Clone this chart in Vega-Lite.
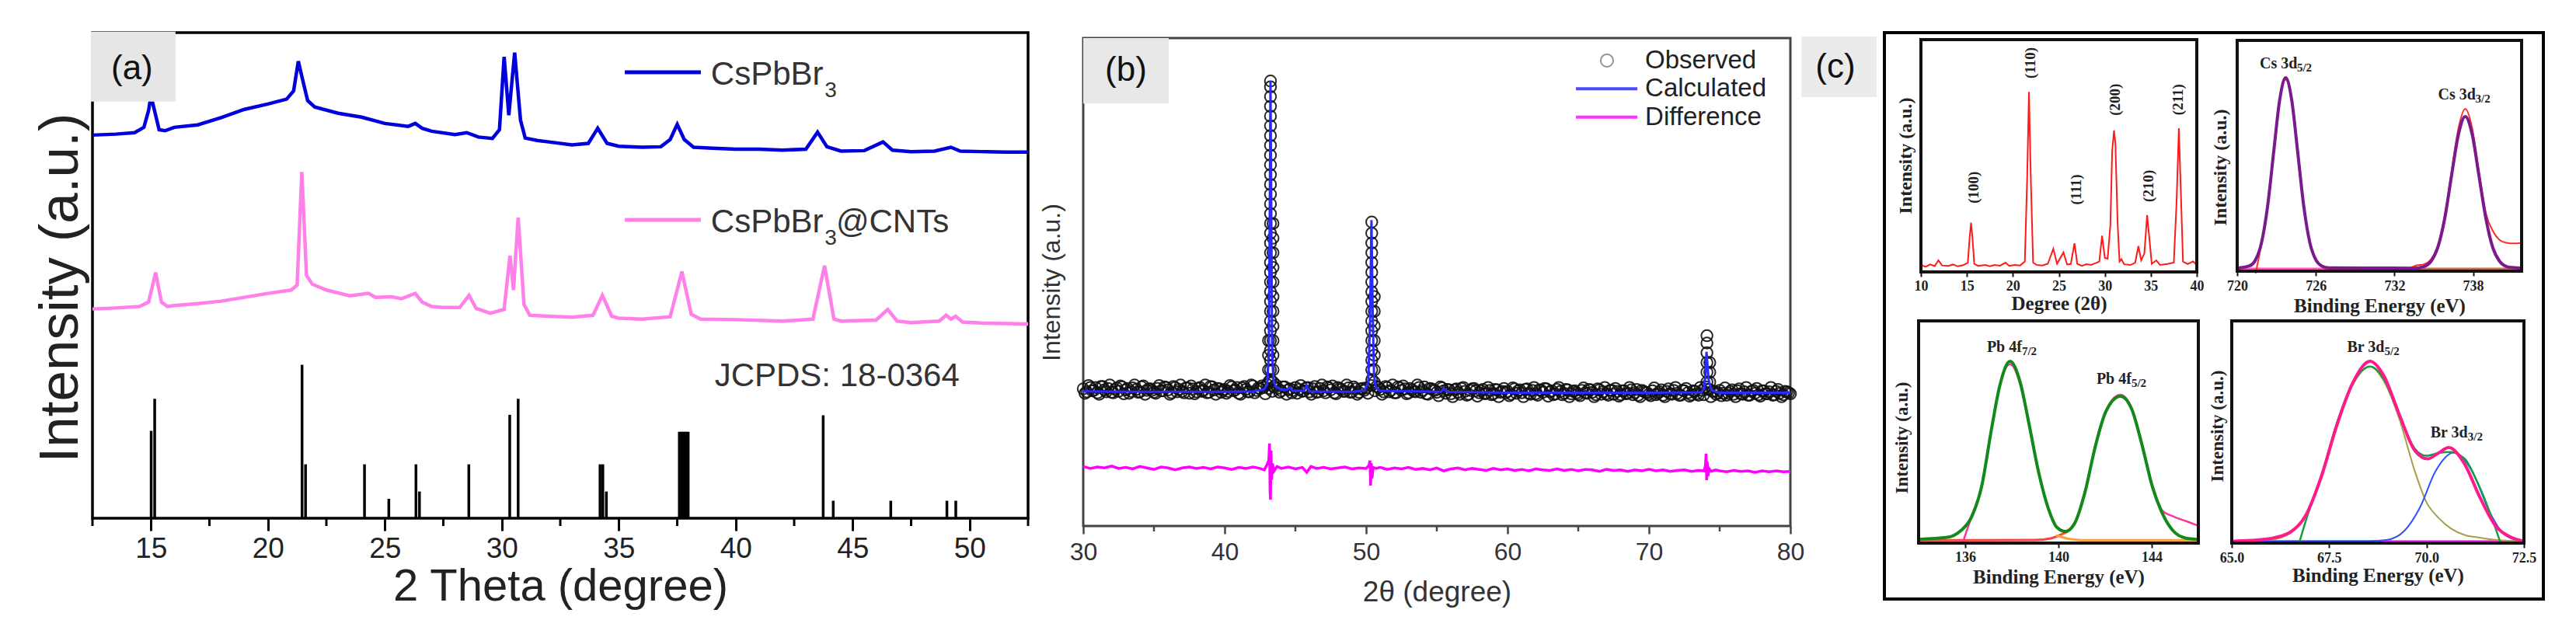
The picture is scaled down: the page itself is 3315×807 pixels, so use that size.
{
"$schema": "https://vega.github.io/schema/vega-lite/v6.json",
"width": 3315, "height": 807, "autosize": "none", "padding": 0, "background": "white",
"config": {"view": {"stroke": null}, "axis": {"grid": false}},
"resolve": {"scale": {"x": "independent", "y": "independent"}, "axis": {"x": "independent", "y": "independent"}},
"layer": [
{
"encoding": {
 "x": {"field": "x", "type": "quantitative", "scale": {"domain": [12.5, 52.5], "range": [119, 1323], "nice": false, "zero": false},
  "axis": {"orient": "bottom", "offset": -140, "values": [15,20,25,30,35,40,45,50], "tickSize": 16, "tickWidth": 3, "tickColor": "#000", "domain": false, "labelFont": "Liberation Sans", "labelFontSize": 37, "labelColor": "#222", "labelPadding": 23, "labelBaseline": "middle", "labelFlush": false, "labelOverlap": false, "title": "2 Theta (degree)", "titleFont": "Liberation Sans", "titleFontSize": 58, "titleFontWeight": "normal", "titleColor": "#222", "titleBaseline": "middle", "titleY": 88}},
 "y": {"field": "y", "type": "quantitative", "scale": {"domain": [0, 100], "range": [667, 42], "nice": false, "zero": false},
  "axis": {"orient": "left", "offset": -119, "labels": false, "ticks": false, "domain": false, "title": "Intensity (a.u.)", "titleFont": "Liberation Sans", "titleFontSize": 71, "titleFontWeight": "normal", "titleColor": "#222", "titleAngle": 270, "titleBaseline": "middle", "titleAlign": "center", "titleX": -41, "titleY": 370}}
},
"layer": [
 {"data": {"values": [{"x":12.5,"x2":52.5,"y":0,"y2":100}]}, "mark": {"type": "rect", "fillOpacity": 0, "stroke": "#000", "strokeWidth": 3.5}, "encoding": {"x2": {"field": "x2"}, "y2": {"field": "y2"}}},
 {"data": {"values": [{"x":12.5,"y":0,"y2":-1.6},{"x":17.5,"y":0,"y2":-1.6},{"x":22.5,"y":0,"y2":-1.6},{"x":27.5,"y":0,"y2":-1.6},{"x":32.5,"y":0,"y2":-1.6},{"x":37.5,"y":0,"y2":-1.6},{"x":42.5,"y":0,"y2":-1.6},{"x":47.5,"y":0,"y2":-1.6},{"x":52.5,"y":0,"y2":-1.6}]}, "mark": {"type": "rule", "color": "#000", "strokeWidth": 3}, "encoding": {"y2": {"field": "y2"}}},
 {"data": {"values": [{"x":15.01,"y":0,"y2":18.0},{"x":15.16,"y":0,"y2":24.6},{"x":21.46,"y":0,"y2":31.6},{"x":21.61,"y":0,"y2":11.1},{"x":24.13,"y":0,"y2":11.1},{"x":25.17,"y":0,"y2":4.0},{"x":26.33,"y":0,"y2":11.1},{"x":26.48,"y":0,"y2":5.5},{"x":28.59,"y":0,"y2":11.1},{"x":30.34,"y":0,"y2":21.3},{"x":30.70,"y":0,"y2":24.6},{"x":34.2,"y":0,"y2":11.1},{"x":34.32,"y":0,"y2":11.1},{"x":34.47,"y":0,"y2":5.5},{"x":37.59,"y":0,"y2":17.8},{"x":37.67,"y":0,"y2":17.8},{"x":37.74,"y":0,"y2":17.8},{"x":37.82,"y":0,"y2":17.8},{"x":37.88,"y":0,"y2":17.8},{"x":37.97,"y":0,"y2":17.8},{"x":43.74,"y":0,"y2":21.2},{"x":44.17,"y":0,"y2":3.6},{"x":46.63,"y":0,"y2":3.6},{"x":49.03,"y":0,"y2":3.6},{"x":49.41,"y":0,"y2":3.6}]}, "mark": {"type": "rule", "color": "#000", "strokeWidth": 3.5}, "encoding": {"y2": {"field": "y2"}}},
 {"data": {"values": [{"x":12.5,"y":78.9},{"x":13.5,"y":79.1},{"x":14.3,"y":79.4},{"x":14.7,"y":80.5},{"x":14.9,"y":84},{"x":15.0,"y":87},{"x":15.15,"y":84},{"x":15.35,"y":80},{"x":15.6,"y":79.8},{"x":16.0,"y":80.5},{"x":17.0,"y":81.0},{"x":18.0,"y":82.5},{"x":19.0,"y":84.2},{"x":20.0,"y":85.3},{"x":20.8,"y":86.3},{"x":21.1,"y":88},{"x":21.3,"y":94.1},{"x":21.5,"y":90},{"x":21.7,"y":86},{"x":22.0,"y":84.7},{"x":23.0,"y":83.4},{"x":24.0,"y":82.6},{"x":25.0,"y":81.3},{"x":26.0,"y":80.7},{"x":26.3,"y":81.3},{"x":26.6,"y":80.3},{"x":27.0,"y":79.7},{"x":28.0,"y":79.0},{"x":28.5,"y":79.4},{"x":29.0,"y":78.5},{"x":29.6,"y":78.2},{"x":29.9,"y":80},{"x":30.1,"y":95},{"x":30.3,"y":83},{"x":30.55,"y":95.9},{"x":30.8,"y":82},{"x":31.0,"y":78.3},{"x":31.5,"y":77.8},{"x":32.0,"y":77.5},{"x":33.0,"y":76.9},{"x":33.7,"y":77.2},{"x":34.1,"y":80.3},{"x":34.5,"y":77.2},{"x":35.0,"y":76.6},{"x":36.0,"y":76.4},{"x":36.8,"y":76.5},{"x":37.2,"y":78},{"x":37.5,"y":81.1},{"x":37.8,"y":78},{"x":38.2,"y":76.4},{"x":39.0,"y":76.2},{"x":40.0,"y":76.0},{"x":41.0,"y":76.0},{"x":42.0,"y":75.8},{"x":43.0,"y":76.0},{"x":43.5,"y":79.5},{"x":43.9,"y":76.5},{"x":44.5,"y":75.6},{"x":45.5,"y":75.7},{"x":46.3,"y":77.5},{"x":46.7,"y":75.8},{"x":47.5,"y":75.5},{"x":48.5,"y":75.6},{"x":49.2,"y":76.4},{"x":49.6,"y":75.6},{"x":50.5,"y":75.5},{"x":51.5,"y":75.4},{"x":52.5,"y":75.4}]}, "mark": {"type": "line", "color": "#0000dd", "strokeWidth": 4.5}},
 {"data": {"values": [{"x":12.5,"y":43.1},{"x":13.5,"y":43.3},{"x":14.5,"y":43.6},{"x":14.9,"y":44.5},{"x":15.2,"y":50.6},{"x":15.45,"y":44.5},{"x":15.7,"y":43.6},{"x":16.0,"y":43.8},{"x":17.0,"y":44.2},{"x":18.0,"y":44.7},{"x":19.0,"y":45.5},{"x":20.0,"y":46.3},{"x":21.0,"y":47.0},{"x":21.25,"y":48},{"x":21.45,"y":71.3},{"x":21.65,"y":50},{"x":21.9,"y":48.2},{"x":22.5,"y":47.0},{"x":23.5,"y":45.8},{"x":24.3,"y":46.3},{"x":24.6,"y":45.5},{"x":25.3,"y":45.6},{"x":25.7,"y":45.2},{"x":26.3,"y":46.3},{"x":26.6,"y":44.5},{"x":27.0,"y":43.6},{"x":27.5,"y":43.4},{"x":28.2,"y":43.4},{"x":28.6,"y":45.9},{"x":28.9,"y":43.2},{"x":29.5,"y":42.2},{"x":30.1,"y":43},{"x":30.35,"y":54.1},{"x":30.5,"y":47},{"x":30.7,"y":61.9},{"x":30.95,"y":44},{"x":31.2,"y":41.8},{"x":32.0,"y":41.6},{"x":33.0,"y":41.4},{"x":33.9,"y":41.8},{"x":34.3,"y":45.9},{"x":34.7,"y":41.6},{"x":35.0,"y":41.2},{"x":36.0,"y":41.0},{"x":37.2,"y":41.5},{"x":37.7,"y":50.8},{"x":38.1,"y":42},{"x":38.5,"y":41.0},{"x":40.0,"y":40.9},{"x":42.0,"y":40.6},{"x":43.3,"y":41},{"x":43.8,"y":52.0},{"x":44.2,"y":41},{"x":44.5,"y":40.6},{"x":46.0,"y":40.8},{"x":46.5,"y":43.0},{"x":46.9,"y":40.6},{"x":47.5,"y":40.3},{"x":48.7,"y":40.6},{"x":49.0,"y":41.8},{"x":49.2,"y":41.0},{"x":49.4,"y":41.6},{"x":49.7,"y":40.4},{"x":50.5,"y":40.2},{"x":52.5,"y":40.0}]}, "mark": {"type": "line", "color": "#ff80e8", "strokeWidth": 4.5}},
 {"data": {"values": [{"x":12.43,"x2":16.05,"y":85.8,"y2":100.2}]}, "mark": {"type": "rect", "fill": "#e6e6e6"}, "encoding": {"x2": {"field": "x2"}, "y2": {"field": "y2"}}},
 {"data": {"values": [{"x":14.19,"y":92.5,"t":"(a)"}]}, "mark": {"type": "text", "font": "Liberation Sans", "fontSize": 44, "color": "#111", "align": "center", "baseline": "middle"}, "encoding": {"text": {"field": "t"}}},
 {"data": {"values": [{"x":35.26,"x2":38.51,"y":91.84}]}, "mark": {"type": "rule", "color": "#0000dd", "strokeWidth": 5}, "encoding": {"x2": {"field": "x2"}}},
 {"data": {"values": [{"x":35.26,"x2":38.51,"y":61.44}]}, "mark": {"type": "rule", "color": "#ff80e8", "strokeWidth": 5}, "encoding": {"x2": {"field": "x2"}}},
 {"data": {"values": [{"x":38.94,"y":91.4,"t":"CsPbBr"},{"x":38.94,"y":61.0,"t":"CsPbBr"},{"x":44.29,"y":61.0,"t":"@CNTs"},{"x":39.1,"y":29.3,"t":"JCPDS: 18-0364"}]}, "mark": {"type": "text", "font": "Liberation Sans", "fontSize": 42, "color": "#333", "align": "left", "baseline": "middle"}, "encoding": {"text": {"field": "t"}}},
 {"data": {"values": [{"x":43.8,"y":88.0,"t":"3"},{"x":43.8,"y":57.6,"t":"3"}]}, "mark": {"type": "text", "font": "Liberation Sans", "fontSize": 28, "color": "#333", "align": "left", "baseline": "middle"}, "encoding": {"text": {"field": "t"}}}
]
},
{
"encoding": {
 "x": {"field": "x", "type": "quantitative", "scale": {"domain": [30, 80], "range": [1394, 2304], "nice": false, "zero": false},
  "axis": {"orient": "bottom", "offset": -130, "values": [30,40,50,60,70,80], "tickSize": 10, "tickWidth": 2.5, "tickColor": "#444", "domain": false, "labelFont": "Liberation Sans", "labelFontSize": 32, "labelColor": "#333", "labelPadding": 23, "labelBaseline": "middle", "labelFlush": false, "labelOverlap": false, "title": "2θ (degree)", "titleFont": "Liberation Sans", "titleFontSize": 37, "titleFontWeight": "normal", "titleColor": "#333", "titleBaseline": "middle", "titleY": 85}},
 "y": {"field": "y", "type": "quantitative", "scale": {"domain": [0, 100], "range": [677, 49], "nice": false, "zero": false},
  "axis": {"orient": "left", "offset": -1394, "labels": false, "ticks": false, "domain": false, "title": "Intensity (a.u.)", "titleFont": "Liberation Sans", "titleFontSize": 32, "titleFontWeight": "normal", "titleColor": "#333", "titleAngle": 270, "titleBaseline": "middle", "titleAlign": "center", "titleX": -41, "titleY": 363}}
},
"layer": [
 {"data": {"values": [{"x":30,"x2":80,"y":0,"y2":100}]}, "mark": {"type": "rect", "fillOpacity": 0, "stroke": "#444", "strokeWidth": 3}, "encoding": {"x2": {"field": "x2"}, "y2": {"field": "y2"}}},
 {"data": {"values": [{"x":35,"y":0,"y2":-1.1},{"x":45,"y":0,"y2":-1.1},{"x":55,"y":0,"y2":-1.1},{"x":65,"y":0,"y2":-1.1},{"x":75,"y":0,"y2":-1.1}]}, "mark": {"type": "rule", "color": "#444", "strokeWidth": 2.5}, "encoding": {"y2": {"field": "y2"}}},
 {"data": {"values": [
  {"x":30.00,"y":28.1},{"x":30.25,"y":27.5},{"x":30.50,"y":28.4},{"x":30.75,"y":27.8},{"x":31.00,"y":27.3},{"x":31.25,"y":28.6},{"x":31.50,"y":27.9},{"x":31.75,"y":28.2},{"x":32.00,"y":27.4},{"x":32.25,"y":28.0},
  {"x":32.50,"y":27.6},{"x":32.75,"y":28.5},{"x":33.00,"y":27.9},{"x":33.25,"y":27.2},{"x":33.50,"y":28.3},{"x":33.75,"y":28.0},{"x":34.00,"y":27.5},{"x":34.25,"y":28.7},{"x":34.50,"y":27.8},{"x":34.75,"y":28.1},
  {"x":35.00,"y":27.4},{"x":35.25,"y":28.2},{"x":35.50,"y":27.7},{"x":35.75,"y":28.5},{"x":36.00,"y":27.9},{"x":36.25,"y":27.3},{"x":36.50,"y":28.4},{"x":36.75,"y":28.0},{"x":37.00,"y":27.6},{"x":37.25,"y":28.3},
  {"x":37.50,"y":27.2},{"x":37.75,"y":28.1},{"x":38.00,"y":27.5},{"x":38.25,"y":28.4},{"x":38.50,"y":27.8},{"x":38.75,"y":27.3},{"x":39.00,"y":28.6},{"x":39.25,"y":27.9},{"x":39.50,"y":28.2},{"x":39.75,"y":27.4},
  {"x":40.00,"y":28.0},{"x":40.25,"y":27.6},{"x":40.50,"y":28.5},{"x":40.75,"y":27.9},{"x":41.00,"y":27.2},{"x":41.25,"y":28.3},{"x":41.50,"y":28.0},{"x":41.75,"y":27.5},{"x":42.00,"y":28.7},{"x":42.25,"y":27.8},
  {"x":42.50,"y":28.1},{"x":42.75,"y":28.4},{"x":43.00,"y":29.0},{"x":43.50,"y":28.6},{"x":43.75,"y":28.2},{"x":44.00,"y":27.7},{"x":44.25,"y":28.5},{"x":44.50,"y":27.9},{"x":44.75,"y":27.3},{"x":45.00,"y":28.4},
  {"x":45.25,"y":28.0},{"x":45.50,"y":27.6},{"x":45.75,"y":28.3},{"x":46.00,"y":27.5},{"x":46.25,"y":28.1},{"x":46.50,"y":27.4},{"x":46.75,"y":28.2},{"x":47.00,"y":27.7},{"x":47.25,"y":28.5},{"x":47.50,"y":27.9},
  {"x":47.75,"y":27.3},{"x":48.00,"y":28.4},{"x":48.25,"y":28.0},{"x":48.50,"y":27.6},{"x":48.75,"y":28.3},{"x":49.00,"y":27.5},{"x":49.25,"y":28.1},{"x":49.50,"y":27.4},{"x":49.75,"y":28.2},{"x":50.00,"y":28.3},
  {"x":50.75,"y":28.6},{"x":51.00,"y":28.0},{"x":51.25,"y":27.5},{"x":51.50,"y":28.4},{"x":51.75,"y":27.8},{"x":52.00,"y":27.3},{"x":52.25,"y":28.5},{"x":52.50,"y":27.8},{"x":52.75,"y":28.1},{"x":53.00,"y":27.3},
  {"x":53.25,"y":27.9},{"x":53.50,"y":27.5},{"x":53.75,"y":28.4},{"x":54.00,"y":27.8},{"x":54.25,"y":27.1},{"x":54.50,"y":28.2},{"x":54.75,"y":27.9},{"x":55.00,"y":27.4},{"x":55.25,"y":28.5},{"x":55.50,"y":27.7},
  {"x":55.75,"y":28.0},{"x":56.00,"y":27.1},{"x":56.25,"y":27.9},{"x":56.50,"y":27.4},{"x":56.75,"y":28.2},{"x":57.00,"y":27.6},{"x":57.25,"y":27.0},{"x":57.50,"y":28.1},{"x":57.75,"y":27.7},{"x":58.00,"y":27.3},
  {"x":58.25,"y":28.0},{"x":58.50,"y":27.2},{"x":58.75,"y":27.8},{"x":59.00,"y":27.1},{"x":59.25,"y":27.9},{"x":59.50,"y":27.4},{"x":59.75,"y":28.2},{"x":60.00,"y":27.6},{"x":60.25,"y":27.0},{"x":60.50,"y":28.1},
  {"x":60.75,"y":27.7},{"x":61.00,"y":27.3},{"x":61.25,"y":28.0},{"x":61.50,"y":27.2},{"x":61.75,"y":27.8},{"x":62.00,"y":27.1},{"x":62.25,"y":27.9},{"x":62.50,"y":27.4},{"x":62.75,"y":28.1},{"x":63.00,"y":27.5},
  {"x":63.25,"y":26.9},{"x":63.50,"y":28.0},{"x":63.75,"y":27.6},{"x":64.00,"y":27.2},{"x":64.25,"y":27.9},{"x":64.50,"y":27.1},{"x":64.75,"y":27.7},{"x":65.00,"y":27.0},{"x":65.25,"y":27.8},{"x":65.50,"y":27.3},
  {"x":65.75,"y":28.0},{"x":66.00,"y":27.4},{"x":66.25,"y":26.9},{"x":66.50,"y":27.9},{"x":66.75,"y":27.5},{"x":67.00,"y":27.1},{"x":67.25,"y":27.8},{"x":67.50,"y":27.0},{"x":67.75,"y":27.6},{"x":68.00,"y":26.9},
  {"x":68.25,"y":27.7},{"x":68.50,"y":27.2},{"x":68.75,"y":27.9},{"x":69.00,"y":27.3},{"x":69.25,"y":26.8},{"x":69.50,"y":27.8},{"x":69.75,"y":27.4},{"x":70.00,"y":27.0},{"x":70.25,"y":27.7},{"x":70.50,"y":26.9},
  {"x":70.75,"y":27.5},{"x":71.00,"y":26.8},{"x":71.25,"y":27.6},{"x":71.50,"y":27.1},{"x":71.75,"y":27.8},{"x":72.00,"y":27.2},{"x":72.25,"y":26.8},{"x":72.50,"y":27.7},{"x":72.75,"y":27.3},{"x":73.00,"y":26.9},
  {"x":73.25,"y":27.6},{"x":73.50,"y":26.8},{"x":73.75,"y":27.8},{"x":74.00,"y":28.5},{"x":74.25,"y":28.0},{"x":74.50,"y":27.6},{"x":74.75,"y":27.0},{"x":75.00,"y":27.8},{"x":75.25,"y":27.2},{"x":75.50,"y":26.8},
  {"x":75.75,"y":27.6},{"x":76.00,"y":27.0},{"x":76.25,"y":27.7},{"x":76.50,"y":27.1},{"x":76.75,"y":27.5},{"x":77.00,"y":26.8},{"x":77.25,"y":27.6},{"x":77.50,"y":27.2},{"x":77.75,"y":26.9},{"x":78.00,"y":27.7},
  {"x":78.25,"y":27.1},{"x":78.50,"y":27.5},{"x":78.75,"y":26.8},{"x":79.00,"y":27.6},{"x":79.25,"y":27.2},{"x":79.50,"y":26.9},{"x":79.75,"y":27.5},{"x":80.00,"y":27.1},
  {"x":30.125,"y":27.2},{"x":30.375,"y":28.8},{"x":30.625,"y":27.7},{"x":30.875,"y":28.4},{"x":31.125,"y":27.0},{"x":31.375,"y":28.6},{"x":31.625,"y":27.5},{"x":31.875,"y":28.9},{"x":32.125,"y":27.3},{"x":32.375,"y":28.3},
  {"x":32.625,"y":28.7},{"x":32.875,"y":27.1},{"x":33.125,"y":28.2},{"x":33.375,"y":27.6},{"x":33.625,"y":28.9},{"x":33.875,"y":27.4},{"x":34.125,"y":28.5},{"x":34.375,"y":27.0},{"x":34.625,"y":28.1},{"x":34.875,"y":27.8},
  {"x":35.125,"y":27.2},{"x":35.375,"y":28.8},{"x":35.625,"y":27.7},{"x":35.875,"y":28.4},{"x":36.125,"y":27.0},{"x":36.375,"y":28.6},{"x":36.625,"y":27.5},{"x":36.875,"y":28.9},{"x":37.125,"y":27.3},{"x":37.375,"y":28.3},
  {"x":37.625,"y":28.7},{"x":37.875,"y":27.1},{"x":38.125,"y":28.2},{"x":38.375,"y":27.6},{"x":38.625,"y":28.9},{"x":38.875,"y":27.4},{"x":39.125,"y":28.5},{"x":39.375,"y":27.0},{"x":39.625,"y":28.1},{"x":39.875,"y":27.8},
  {"x":40.125,"y":27.2},{"x":40.375,"y":28.8},{"x":40.625,"y":27.7},{"x":40.875,"y":28.4},{"x":41.125,"y":27.0},{"x":41.375,"y":28.6},{"x":41.625,"y":27.5},{"x":41.875,"y":28.9},{"x":42.125,"y":27.3},{"x":42.375,"y":28.3},
  {"x":42.625,"y":28.7},{"x":42.875,"y":27.1},{"x":43.125,"y":28.2},{"x":43.375,"y":27.6},{"x":43.625,"y":28.9},{"x":43.875,"y":27.4},{"x":44.125,"y":28.5},{"x":44.375,"y":27.0},{"x":44.625,"y":28.1},{"x":44.875,"y":27.8},
  {"x":45.125,"y":27.2},{"x":45.375,"y":28.8},{"x":45.625,"y":27.7},{"x":45.875,"y":28.4},{"x":46.125,"y":27.0},{"x":46.375,"y":28.6},{"x":46.625,"y":27.5},{"x":46.875,"y":28.9},{"x":47.125,"y":27.3},{"x":47.375,"y":28.3},
  {"x":47.625,"y":28.7},{"x":47.875,"y":27.1},{"x":48.125,"y":28.2},{"x":48.375,"y":27.6},{"x":48.625,"y":28.9},{"x":48.875,"y":27.4},{"x":49.125,"y":28.5},{"x":49.375,"y":27.0},{"x":49.625,"y":28.1},{"x":49.875,"y":27.8},
  {"x":50.125,"y":27.2},{"x":50.375,"y":28.8},{"x":50.625,"y":27.7},{"x":50.875,"y":28.4},{"x":51.125,"y":27.0},{"x":51.375,"y":28.6},{"x":51.625,"y":27.5},{"x":51.875,"y":28.9},{"x":52.125,"y":27.3},{"x":52.375,"y":28.3},
  {"x":52.625,"y":28.7},{"x":52.875,"y":27.1},{"x":53.125,"y":28.2},{"x":53.375,"y":27.6},{"x":53.625,"y":28.9},{"x":53.875,"y":27.4},{"x":54.125,"y":28.5},{"x":54.375,"y":27.0},{"x":54.625,"y":28.1},{"x":54.875,"y":27.8},
  {"x":55.125,"y":26.7},{"x":55.375,"y":28.3},{"x":55.625,"y":27.2},{"x":55.875,"y":27.9},{"x":56.125,"y":26.5},{"x":56.375,"y":28.1},{"x":56.625,"y":27.0},{"x":56.875,"y":28.4},{"x":57.125,"y":26.8},{"x":57.375,"y":27.8},
  {"x":57.625,"y":28.2},{"x":57.875,"y":26.6},{"x":58.125,"y":27.7},{"x":58.375,"y":27.1},{"x":58.625,"y":28.4},{"x":58.875,"y":26.9},{"x":59.125,"y":28.0},{"x":59.375,"y":26.5},{"x":59.625,"y":27.6},{"x":59.875,"y":27.3},
  {"x":60.125,"y":26.7},{"x":60.375,"y":28.3},{"x":60.625,"y":27.2},{"x":60.875,"y":27.9},{"x":61.125,"y":26.5},{"x":61.375,"y":28.1},{"x":61.625,"y":27.0},{"x":61.875,"y":28.4},{"x":62.125,"y":26.8},{"x":62.375,"y":27.8},
  {"x":62.625,"y":28.2},{"x":62.875,"y":26.6},{"x":63.125,"y":27.7},{"x":63.375,"y":27.1},{"x":63.625,"y":28.4},{"x":63.875,"y":26.9},{"x":64.125,"y":28.0},{"x":64.375,"y":26.5},{"x":64.625,"y":27.6},{"x":64.875,"y":27.3},
  {"x":65.125,"y":26.7},{"x":65.375,"y":28.3},{"x":65.625,"y":27.2},{"x":65.875,"y":27.9},{"x":66.125,"y":26.5},{"x":66.375,"y":28.1},{"x":66.625,"y":27.0},{"x":66.875,"y":28.4},{"x":67.125,"y":26.8},{"x":67.375,"y":27.8},
  {"x":67.625,"y":28.2},{"x":67.875,"y":26.6},{"x":68.125,"y":27.7},{"x":68.375,"y":27.1},{"x":68.625,"y":28.4},{"x":68.875,"y":26.9},{"x":69.125,"y":28.0},{"x":69.375,"y":26.5},{"x":69.625,"y":27.6},{"x":69.875,"y":27.3},
  {"x":70.125,"y":26.7},{"x":70.375,"y":28.3},{"x":70.625,"y":27.2},{"x":70.875,"y":27.9},{"x":71.125,"y":26.5},{"x":71.375,"y":28.1},{"x":71.625,"y":27.0},{"x":71.875,"y":28.4},{"x":72.125,"y":26.8},{"x":72.375,"y":27.8},
  {"x":72.625,"y":28.2},{"x":72.875,"y":26.6},{"x":73.125,"y":27.7},{"x":73.375,"y":27.1},{"x":73.625,"y":28.4},{"x":73.875,"y":26.9},{"x":74.125,"y":28.0},{"x":74.375,"y":26.5},{"x":74.625,"y":27.6},{"x":74.875,"y":27.3},
  {"x":75.125,"y":26.7},{"x":75.375,"y":28.3},{"x":75.625,"y":27.2},{"x":75.875,"y":27.9},{"x":76.125,"y":26.5},{"x":76.375,"y":28.1},{"x":76.625,"y":27.0},{"x":76.875,"y":28.4},{"x":77.125,"y":26.8},{"x":77.375,"y":27.8},
  {"x":77.625,"y":28.2},{"x":77.875,"y":26.6},{"x":78.125,"y":27.7},{"x":78.375,"y":27.1},{"x":78.625,"y":28.4},{"x":78.875,"y":26.9},{"x":79.125,"y":28.0},{"x":79.375,"y":26.5},{"x":79.625,"y":27.6},{"x":79.875,"y":27.3},
  {"x":43.24,"y":30},{"x":43.24,"y":32},{"x":43.24,"y":34},{"x":43.24,"y":36},{"x":43.24,"y":38},{"x":43.24,"y":40},{"x":43.24,"y":42},{"x":43.24,"y":44},{"x":43.24,"y":46},{"x":43.24,"y":48},{"x":43.24,"y":50},{"x":43.24,"y":52},{"x":43.24,"y":54},{"x":43.24,"y":56},{"x":43.24,"y":58},{"x":43.24,"y":60},{"x":43.24,"y":62},{"x":43.24,"y":64},{"x":43.24,"y":66},{"x":43.24,"y":68},{"x":43.24,"y":70},{"x":43.24,"y":72},{"x":43.24,"y":74},{"x":43.24,"y":76},{"x":43.24,"y":78},{"x":43.24,"y":80},{"x":43.24,"y":82},{"x":43.24,"y":84},{"x":43.24,"y":86},{"x":43.24,"y":88},{"x":43.24,"y":90},{"x":43.24,"y":91.2},
  {"x":43.1,"y":29.5},{"x":43.1,"y":32},{"x":43.1,"y":35},{"x":43.1,"y":38},
  {"x":43.42,"y":29.5},{"x":43.42,"y":32},{"x":43.42,"y":35},{"x":43.42,"y":38},{"x":43.42,"y":41},{"x":43.42,"y":44},{"x":43.42,"y":47},{"x":43.42,"y":50},{"x":43.42,"y":53},{"x":43.42,"y":56},{"x":43.42,"y":59},{"x":43.42,"y":62},
  {"x":50.4,"y":30},{"x":50.4,"y":32},{"x":50.4,"y":34},{"x":50.4,"y":36},{"x":50.4,"y":38},{"x":50.4,"y":40},{"x":50.4,"y":42},{"x":50.4,"y":44},{"x":50.4,"y":46},{"x":50.4,"y":48},{"x":50.4,"y":50},{"x":50.4,"y":52},{"x":50.4,"y":54},{"x":50.4,"y":56},{"x":50.4,"y":58},{"x":50.4,"y":60},{"x":50.4,"y":62.3},
  {"x":50.58,"y":29.5},{"x":50.58,"y":32},{"x":50.58,"y":35},{"x":50.58,"y":38},{"x":50.58,"y":41},{"x":50.58,"y":44},{"x":50.58,"y":47},
  {"x":74.1,"y":29.5},{"x":74.1,"y":31.5},{"x":74.1,"y":33.5},{"x":74.1,"y":35.5},{"x":74.1,"y":37.5},{"x":74.1,"y":39.0},
  {"x":74.3,"y":29.5},{"x":74.3,"y":31.5},{"x":74.3,"y":33.5}
 ]}, "mark": {"type": "point", "shape": "circle", "filled": false, "size": 210, "strokeWidth": 2, "color": "#111", "opacity": 0.9}},
 {"data": {"values": [{"x":30,"y":27.6},{"x":35,"y":27.5},{"x":40,"y":27.5},{"x":42.0,"y":27.6},{"x":42.8,"y":28.0},{"x":43.0,"y":29},{"x":43.12,"y":35},{"x":43.18,"y":60},{"x":43.24,"y":91.2},{"x":43.3,"y":62},{"x":43.36,"y":35},{"x":43.45,"y":30},{"x":43.6,"y":28.6},{"x":44.0,"y":28.0},{"x":44.4,"y":27.9},{"x":44.6,"y":28.4},{"x":44.8,"y":27.7},{"x":45.6,"y":27.7},{"x":45.8,"y":28.8},{"x":46.0,"y":27.6},{"x":49.0,"y":27.5},{"x":49.9,"y":27.8},{"x":50.15,"y":29.5},{"x":50.28,"y":42},{"x":50.38,"y":62.7},{"x":50.46,"y":45},{"x":50.56,"y":31},{"x":50.7,"y":28.3},{"x":51.0,"y":27.7},{"x":55.3,"y":27.5},{"x":55.5,"y":28.2},{"x":55.7,"y":27.5},{"x":60,"y":27.3},{"x":70,"y":27.3},{"x":73.7,"y":27.4},{"x":73.9,"y":28.2},{"x":74.0,"y":31},{"x":74.07,"y":35.7},{"x":74.14,"y":33},{"x":74.22,"y":30},{"x":74.3,"y":29},{"x":74.45,"y":27.8},{"x":75,"y":27.3},{"x":80,"y":27.3}]}, "mark": {"type": "line", "color": "#2a2aff", "strokeWidth": 3}},
 {"data": {"values": [{"x":30,"y":12.2},{"x":30.5,"y":11.8},{"x":31,"y":12.1},{"x":31.5,"y":11.9},{"x":32,"y":12.3},{"x":32.5,"y":11.8},{"x":33,"y":12.0},{"x":33.5,"y":11.7},{"x":34,"y":12.2},{"x":34.5,"y":11.9},{"x":35,"y":11.6},{"x":35.5,"y":12.1},{"x":36,"y":11.9},{"x":36.5,"y":11.5},{"x":37,"y":11.9},{"x":37.5,"y":12.1},{"x":38,"y":11.8},{"x":38.5,"y":12.0},{"x":39,"y":11.7},{"x":39.5,"y":12.1},{"x":40,"y":11.9},{"x":40.5,"y":11.6},{"x":41,"y":12.0},{"x":41.5,"y":11.8},{"x":42,"y":12.1},{"x":42.5,"y":11.8},{"x":42.8,"y":11.5},{"x":43.0,"y":12.6},{"x":43.12,"y":13.5},{"x":43.17,"y":16.9},{"x":43.21,"y":7},{"x":43.24,"y":5.4},{"x":43.28,"y":15.5},{"x":43.32,"y":9.5},{"x":43.38,"y":12.8},{"x":43.5,"y":11.3},{"x":43.7,"y":12.2},{"x":44,"y":11.8},{"x":44.5,"y":12.1},{"x":45,"y":11.7},{"x":45.5,"y":12.0},{"x":45.8,"y":11.0},{"x":46.1,"y":12.2},{"x":46.5,"y":11.8},{"x":47,"y":12.0},{"x":47.5,"y":11.7},{"x":48,"y":11.9},{"x":48.5,"y":12.1},{"x":49,"y":11.7},{"x":49.5,"y":11.9},{"x":50,"y":11.8},{"x":50.2,"y":12.4},{"x":50.27,"y":13.4},{"x":50.32,"y":8.3},{"x":50.37,"y":12.9},{"x":50.42,"y":9.8},{"x":50.5,"y":12.0},{"x":50.7,"y":11.8},{"x":51,"y":12.0},{"x":51.5,"y":11.6},{"x":52,"y":11.9},{"x":52.5,"y":11.7},{"x":53,"y":12.0},{"x":53.5,"y":11.6},{"x":54,"y":11.8},{"x":54.5,"y":11.5},{"x":55,"y":11.9},{"x":55.5,"y":11.3},{"x":56,"y":11.7},{"x":56.5,"y":11.9},{"x":57,"y":11.5},{"x":57.5,"y":11.8},{"x":58,"y":11.6},{"x":58.5,"y":11.4},{"x":59,"y":11.8},{"x":59.5,"y":11.5},{"x":60,"y":11.7},{"x":60.5,"y":11.4},{"x":61,"y":11.6},{"x":61.5,"y":11.3},{"x":62,"y":11.7},{"x":62.5,"y":11.5},{"x":63,"y":11.4},{"x":63.5,"y":11.7},{"x":64,"y":11.4},{"x":64.5,"y":11.6},{"x":65,"y":11.3},{"x":65.5,"y":11.6},{"x":66,"y":11.5},{"x":66.5,"y":11.2},{"x":67,"y":11.6},{"x":67.5,"y":11.4},{"x":68,"y":11.5},{"x":68.5,"y":11.2},{"x":69,"y":11.5},{"x":69.5,"y":11.3},{"x":70,"y":11.6},{"x":70.5,"y":11.3},{"x":71,"y":11.5},{"x":71.5,"y":11.2},{"x":72,"y":11.4},{"x":72.5,"y":11.5},{"x":73,"y":11.2},{"x":73.5,"y":11.4},{"x":73.9,"y":11.3},{"x":74.0,"y":12.5},{"x":74.04,"y":14.8},{"x":74.08,"y":9.4},{"x":74.12,"y":13.2},{"x":74.17,"y":10.2},{"x":74.25,"y":11.8},{"x":74.4,"y":11.2},{"x":74.7,"y":11.5},{"x":75,"y":11.3},{"x":75.5,"y":11.1},{"x":76,"y":11.4},{"x":76.5,"y":11.2},{"x":77,"y":11.3},{"x":77.5,"y":11.0},{"x":78,"y":11.3},{"x":78.5,"y":11.1},{"x":79,"y":11.3},{"x":79.5,"y":11.1},{"x":80,"y":11.2}]}, "mark": {"type": "line", "color": "#ff00ff", "strokeWidth": 3.5}},
 {"data": {"values": [{"x":30,"x2":36.04,"y":86.6,"y2":100}]}, "mark": {"type": "rect", "fill": "#e8e8e8"}, "encoding": {"x2": {"field": "x2"}, "y2": {"field": "y2"}}},
 {"data": {"values": [{"x":33.02,"y":93.3,"t":"(b)"}]}, "mark": {"type": "text", "font": "Liberation Sans", "fontSize": 44, "color": "#111", "align": "center", "baseline": "middle"}, "encoding": {"text": {"field": "t"}}},
 {"data": {"values": [{"x":67.03,"y":95.4}]}, "mark": {"type": "point", "shape": "circle", "filled": false, "size": 260, "strokeWidth": 2, "color": "#666"}},
 {"data": {"values": [{"x":64.84,"x2":69.18,"y":89.6}]}, "mark": {"type": "rule", "color": "#4a4aff", "strokeWidth": 4}, "encoding": {"x2": {"field": "x2"}}},
 {"data": {"values": [{"x":64.84,"x2":69.18,"y":83.8}]}, "mark": {"type": "rule", "color": "#ff33ff", "strokeWidth": 4}, "encoding": {"x2": {"field": "x2"}}},
 {"data": {"values": [{"x":69.73,"y":95.4,"t":"Observed"},{"x":69.73,"y":89.6,"t":"Calculated"},{"x":69.73,"y":83.8,"t":"Difference"}]}, "mark": {"type": "text", "font": "Liberation Sans", "fontSize": 33, "color": "#222", "align": "left", "baseline": "middle"}, "encoding": {"text": {"field": "t"}}}
]
},
{
"encoding": {
 "x": {"field": "x", "type": "quantitative", "scale": {"domain": [0, 1], "range": [2425, 3273], "nice": false, "zero": false}, "axis": null},
 "y": {"field": "y", "type": "quantitative", "scale": {"domain": [0, 1], "range": [771, 42], "nice": false, "zero": false}, "axis": null}
},
"layer": [
 {"data": {"values": [{"x":0,"x2":1,"y":0,"y2":1}]}, "mark": {"type": "rect", "fillOpacity": 0, "stroke": "#000", "strokeWidth": 4}, "encoding": {"x2": {"field": "x2"}, "y2": {"field": "y2"}}},
 {"data": {"values": [{"x":-0.126,"x2":-0.0118,"y":0.886,"y2":0.993}]}, "mark": {"type": "rect", "fill": "#ebebeb"}, "encoding": {"x2": {"field": "x2"}, "y2": {"field": "y2"}}},
 {"data": {"values": [{"x":-0.0743,"y":0.938,"t":"(c)"}]}, "mark": {"type": "text", "font": "Liberation Sans", "fontSize": 44, "color": "#111", "align": "center", "baseline": "middle"}, "encoding": {"text": {"field": "t"}}}
]
},
{
"encoding": {
 "x": {"field": "x", "type": "quantitative", "scale": {"domain": [10, 40], "range": [2472, 2827], "nice": false, "zero": false},
  "axis": {"orient": "bottom", "offset": -457, "values": [10,15,20,25,30,35,40], "tickSize": 6, "tickWidth": 2, "tickColor": "#111", "domain": false, "labelFont": "Liberation Serif", "labelFontWeight": "bold", "labelFontSize": 18, "labelColor": "#222", "labelPadding": 12, "labelBaseline": "middle", "labelFlush": false, "labelOverlap": false, "title": "Degree (2θ)", "titleFont": "Liberation Serif", "titleFontSize": 25, "titleFontWeight": "bold", "titleColor": "#222", "titleBaseline": "middle", "titleY": 40}},
 "y": {"field": "y", "type": "quantitative", "scale": {"domain": [0, 100], "range": [350, 51], "nice": false, "zero": false},
  "axis": {"orient": "left", "offset": -2472, "labels": false, "ticks": false, "domain": false, "title": "Intensity (a.u.)", "titleFont": "Liberation Serif", "titleFontSize": 24, "titleFontWeight": "bold", "titleColor": "#222", "titleAngle": 270, "titleBaseline": "middle", "titleAlign": "center", "titleX": -20, "titleY": 200}}
},
"layer": [
 {"data": {"values": [{"x":10.0,"y":3.0},{"x":10.5,"y":2.2},{"x":11.0,"y":3.2},{"x":11.5,"y":2.5},{"x":11.9,"y":5.0},{"x":12.3,"y":2.8},{"x":13.0,"y":2.6},{"x":13.5,"y":3.2},{"x":14.0,"y":2.4},{"x":14.6,"y":2.9},{"x":15.1,"y":4},{"x":15.3,"y":15},{"x":15.45,"y":21.2},{"x":15.6,"y":15},{"x":15.8,"y":3.5},{"x":16.2,"y":2.6},{"x":17.0,"y":3.0},{"x":17.5,"y":2.4},{"x":18.0,"y":3.0},{"x":18.6,"y":2.7},{"x":19.2,"y":4.0},{"x":19.6,"y":2.6},{"x":20.2,"y":3.0},{"x":20.8,"y":2.8},{"x":21.3,"y":4.5},{"x":21.55,"y":40},{"x":21.75,"y":77.5},{"x":21.95,"y":40},{"x":22.2,"y":4},{"x":22.6,"y":3.0},{"x":23.2,"y":2.8},{"x":23.8,"y":3.5},{"x":24.4,"y":10},{"x":24.8,"y":3.5},{"x":25.5,"y":8.4},{"x":25.9,"y":3.2},{"x":26.3,"y":3.4},{"x":26.7,"y":12.3},{"x":27.0,"y":3.5},{"x":27.5,"y":2.6},{"x":28.0,"y":3.3},{"x":28.5,"y":3.0},{"x":29.0,"y":3.8},{"x":29.4,"y":4.5},{"x":29.7,"y":15.6},{"x":30.0,"y":6},{"x":30.3,"y":5.7},{"x":30.6,"y":20},{"x":30.8,"y":52},{"x":31.0,"y":60.9},{"x":31.15,"y":55},{"x":31.4,"y":20},{"x":31.6,"y":4.5},{"x":31.8,"y":5.5},{"x":32.1,"y":3.3},{"x":32.8,"y":3.0},{"x":33.3,"y":4.0},{"x":33.65,"y":11.1},{"x":33.95,"y":5},{"x":34.3,"y":8},{"x":34.6,"y":24.5},{"x":34.9,"y":12},{"x":35.1,"y":3.5},{"x":35.6,"y":5},{"x":36.0,"y":3.0},{"x":36.8,"y":3.4},{"x":37.5,"y":4},{"x":37.8,"y":30},{"x":38.05,"y":61.9},{"x":38.3,"y":30},{"x":38.5,"y":4.5},{"x":39.0,"y":3.4},{"x":39.6,"y":4.5},{"x":40.0,"y":3.0}]}, "mark": {"type": "line", "color": "#ff1a1a", "strokeWidth": 2}},
 {"data": {"values": [{"x":15.75,"y":36.4,"t":"(100)"},{"x":21.9,"y":90,"t":"(110)"},{"x":26.9,"y":35.5,"t":"(111)"},{"x":31.1,"y":74.2,"t":"(200)"},{"x":34.8,"y":37,"t":"(210)"},{"x":38.0,"y":74.2,"t":"(211)"}]}, "mark": {"type": "text", "font": "Liberation Serif", "fontWeight": "bold", "fontSize": 19, "color": "#222", "angle": 270, "align": "center", "baseline": "middle"}, "encoding": {"text": {"field": "t"}}},
 {"data": {"values": [{"x":10,"x2":40,"y":0,"y2":100}]}, "mark": {"type": "rect", "fillOpacity": 0, "stroke": "#111", "strokeWidth": 4}, "encoding": {"x2": {"field": "x2"}, "y2": {"field": "y2"}}}
]
},
{
"encoding": {
 "x": {"field": "x", "type": "quantitative", "scale": {"domain": [720, 741.7], "range": [2879, 3245], "nice": false, "zero": false},
  "axis": {"orient": "bottom", "offset": -458, "values": [720,726,732,738], "tickSize": 6, "tickWidth": 2, "tickColor": "#111", "domain": false, "labelFont": "Liberation Serif", "labelFontWeight": "bold", "labelFontSize": 18, "labelColor": "#222", "labelPadding": 13, "labelBaseline": "middle", "labelFlush": false, "labelOverlap": false, "title": "Binding Energy (eV)", "titleFont": "Liberation Serif", "titleFontSize": 25, "titleFontWeight": "bold", "titleColor": "#222", "titleBaseline": "middle", "titleY": 44}},
 "y": {"field": "y", "type": "quantitative", "scale": {"domain": [0, 100], "range": [349, 52], "nice": false, "zero": false},
  "axis": {"orient": "left", "offset": -2879, "labels": false, "ticks": false, "domain": false, "title": "Intensity (a.u.)", "titleFont": "Liberation Serif", "titleFontSize": 24, "titleFontWeight": "bold", "titleColor": "#222", "titleAngle": 270, "titleBaseline": "middle", "titleAlign": "center", "titleX": -22, "titleY": 215}}
},
"layer": [
 {"data": {"values": [{"x":720,"x2":733,"y":1}]}, "mark": {"type": "rule", "color": "#ff55bb", "strokeWidth": 3}, "encoding": {"x2": {"field": "x2"}}},
 {"data": {"values": [{"x":733,"x2":741.7,"y":1}]}, "mark": {"type": "rule", "color": "#c0704a", "strokeWidth": 3}, "encoding": {"x2": {"field": "x2"}}},
 {"data": {"values": [{"x":721.4,"y":-1},{"x":721.86,"y":12},{"x":722.32,"y":28},{"x":722.78,"y":51.4},{"x":723.24,"y":74},{"x":723.7,"y":83},{"x":724.16,"y":74},{"x":724.62,"y":51},{"x":725.08,"y":28},{"x":725.54,"y":12.4},{"x":726,"y":4.9},{"x":726.46,"y":2},{"x":727,"y":1},{"x":730,"y":1},{"x":732,"y":0.3},{"x":733,"y":1},{"x":733.7,"y":2.5},{"x":734.25,"y":3},{"x":734.78,"y":5},{"x":735.3,"y":11},{"x":735.83,"y":24},{"x":736.35,"y":43},{"x":736.88,"y":62},{"x":737.4,"y":70.4},{"x":737.93,"y":62},{"x":738.45,"y":43},{"x":738.98,"y":25},{"x":739.5,"y":17.5},{"x":740.03,"y":13.5},{"x":740.55,"y":12.3},{"x":741.1,"y":12},{"x":741.7,"y":12.3}]}, "mark": {"type": "line", "color": "#ff2a2a", "strokeWidth": 2, "interpolate": "monotone"}},
 {"data": {"values": [{"x":720,"y":1.3},{"x":720.9,"y":2.2},{"x":721.4,"y":4.9},{"x":721.86,"y":12.4},{"x":722.32,"y":28.1},{"x":722.78,"y":51.4},{"x":723.24,"y":74.1},{"x":723.7,"y":83.8},{"x":724.16,"y":74.1},{"x":724.62,"y":51.4},{"x":725.08,"y":28.1},{"x":725.54,"y":12.4},{"x":726.0,"y":4.9},{"x":726.46,"y":2.2},{"x":727,"y":1.4},{"x":733.5,"y":1.3},{"x":734.25,"y":2.0},{"x":734.78,"y":4.2},{"x":735.3,"y":10.2},{"x":735.83,"y":22.7},{"x":736.35,"y":41.2},{"x":736.88,"y":59.2},{"x":737.4,"y":67},{"x":737.93,"y":59.2},{"x":738.45,"y":41.2},{"x":738.98,"y":22.7},{"x":739.5,"y":10.2},{"x":740.03,"y":4.2},{"x":740.55,"y":2.0},{"x":741.1,"y":1.5},{"x":741.7,"y":1.3}]}, "mark": {"type": "line", "color": "#7b1a8c", "strokeWidth": 4, "interpolate": "monotone"}},
 {"data": {"values": [{"x":721.72,"y":89.9,"t":"Cs 3d"},{"x":735.33,"y":76.4,"t":"Cs 3d"}]}, "mark": {"type": "text", "font": "Liberation Serif", "fontWeight": "bold", "fontSize": 20, "color": "#222", "align": "left", "baseline": "middle"}, "encoding": {"text": {"field": "t"}}},
 {"data": {"values": [{"x":724.56,"y":88.2,"t":"5/2"},{"x":738.17,"y":74.7,"t":"3/2"}]}, "mark": {"type": "text", "font": "Liberation Serif", "fontWeight": "bold", "fontSize": 15, "color": "#222", "align": "left", "baseline": "middle"}, "encoding": {"text": {"field": "t"}}},
 {"data": {"values": [{"x":720,"x2":741.7,"y":0,"y2":100}]}, "mark": {"type": "rect", "fillOpacity": 0, "stroke": "#111", "strokeWidth": 4}, "encoding": {"x2": {"field": "x2"}, "y2": {"field": "y2"}}}
]
},
{
"encoding": {
 "x": {"field": "x", "type": "quantitative", "scale": {"domain": [134, 146], "range": [2469, 2829], "nice": false, "zero": false},
  "axis": {"orient": "bottom", "offset": -108, "values": [136,140,144], "tickSize": 6, "tickWidth": 2, "tickColor": "#111", "domain": false, "labelFont": "Liberation Serif", "labelFontWeight": "bold", "labelFontSize": 18, "labelColor": "#222", "labelPadding": 12, "labelBaseline": "middle", "labelFlush": false, "labelOverlap": false, "title": "Binding Energy (eV)", "titleFont": "Liberation Serif", "titleFontSize": 25, "titleFontWeight": "bold", "titleColor": "#222", "titleBaseline": "middle", "titleY": 43}},
 "y": {"field": "y", "type": "quantitative", "scale": {"domain": [0, 100], "range": [699, 413], "nice": false, "zero": false},
  "axis": {"orient": "left", "offset": -2469, "labels": false, "ticks": false, "domain": false, "title": "Intensity (a.u.)", "titleFont": "Liberation Serif", "titleFontSize": 23, "titleFontWeight": "bold", "titleColor": "#222", "titleAngle": 270, "titleBaseline": "middle", "titleAlign": "center", "titleX": -22, "titleY": 563}}
},
"layer": [
 {"data": {"values": [{"x":134,"y":1.3},{"x":139,"y":1.4},{"x":139.7,"y":2.2},{"x":140.1,"y":3.8},{"x":140.4,"y":5.2}]}, "mark": {"type": "line", "color": "#ff4040", "strokeWidth": 3, "interpolate": "monotone"}},
 {"data": {"values": [{"x":139.9,"y":3.5},{"x":140.5,"y":1.8},{"x":141,"y":1.3},{"x":146,"y":1.3}]}, "mark": {"type": "line", "color": "#ffa030", "strokeWidth": 3, "interpolate": "monotone"}},
 {"data": {"values": [{"x":135.87,"y":-0.5},{"x":136.25,"y":11.3},{"x":136.7,"y":25.3},{"x":137.14,"y":52.1},{"x":137.48,"y":70.7},{"x":137.92,"y":80.5},{"x":138.37,"y":71},{"x":138.7,"y":55},{"x":139.14,"y":32},{"x":139.59,"y":15},{"x":139.92,"y":7.5},{"x":140.3,"y":5.5},{"x":140.7,"y":9.3},{"x":141.14,"y":23.5},{"x":141.59,"y":44.5},{"x":142.03,"y":59.5},{"x":142.66,"y":66.8},{"x":143.14,"y":60.8},{"x":143.59,"y":44.5},{"x":144.03,"y":26},{"x":144.42,"y":15},{"x":144.92,"y":12},{"x":145.5,"y":9.8},{"x":146,"y":7.8}]}, "mark": {"type": "line", "color": "#ff3399", "strokeWidth": 2.5, "interpolate": "monotone"}},
 {"data": {"values": [{"x":134.0,"y":1.7},{"x":135.24,"y":2.6},{"x":135.8,"y":5.5},{"x":136.25,"y":11.3},{"x":136.7,"y":25.3},{"x":137.14,"y":52.1},{"x":137.48,"y":70.7},{"x":137.92,"y":81.8},{"x":138.37,"y":71.9},{"x":138.7,"y":55.6},{"x":139.14,"y":32.3},{"x":139.59,"y":14.8},{"x":139.92,"y":7.2},{"x":140.3,"y":5.2},{"x":140.7,"y":9},{"x":141.14,"y":23},{"x":141.59,"y":43.9},{"x":142.03,"y":59.1},{"x":142.66,"y":66.1},{"x":143.14,"y":60.3},{"x":143.59,"y":43.9},{"x":144.03,"y":25.3},{"x":144.42,"y":14.2},{"x":144.92,"y":5.5},{"x":145.48,"y":2.2},{"x":146,"y":1.7}]}, "mark": {"type": "line", "color": "#13891a", "strokeWidth": 4, "interpolate": "monotone"}},
 {"data": {"values": [{"x":136.93,"y":88.1,"t":"Pb 4f"},{"x":141.63,"y":73.8,"t":"Pb 4f"}]}, "mark": {"type": "text", "font": "Liberation Serif", "fontWeight": "bold", "fontSize": 20, "color": "#222", "align": "left", "baseline": "middle"}, "encoding": {"text": {"field": "t"}}},
 {"data": {"values": [{"x":138.43,"y":86.4,"t":"7/2"},{"x":143.13,"y":72.0,"t":"5/2"}]}, "mark": {"type": "text", "font": "Liberation Serif", "fontWeight": "bold", "fontSize": 15, "color": "#222", "align": "left", "baseline": "middle"}, "encoding": {"text": {"field": "t"}}},
 {"data": {"values": [{"x":134,"x2":146,"y":0,"y2":100}]}, "mark": {"type": "rect", "fillOpacity": 0, "stroke": "#111", "strokeWidth": 4}, "encoding": {"x2": {"field": "x2"}, "y2": {"field": "y2"}}}
]
},
{
"encoding": {
 "x": {"field": "x", "type": "quantitative", "scale": {"domain": [65, 72.5], "range": [2872, 3248], "nice": false, "zero": false},
  "axis": {"orient": "bottom", "offset": -108, "values": [65,67.5,70,72.5], "format": ".1f", "tickSize": 6, "tickWidth": 2, "tickColor": "#111", "domain": false, "labelFont": "Liberation Serif", "labelFontWeight": "bold", "labelFontSize": 18, "labelColor": "#222", "labelPadding": 13, "labelBaseline": "middle", "labelFlush": false, "labelOverlap": false, "title": "Binding Energy (eV)", "titleFont": "Liberation Serif", "titleFontSize": 25, "titleFontWeight": "bold", "titleColor": "#222", "titleBaseline": "middle", "titleY": 41}},
 "y": {"field": "y", "type": "quantitative", "scale": {"domain": [0, 100], "range": [699, 413], "nice": false, "zero": false},
  "axis": {"orient": "left", "offset": -2872, "labels": false, "ticks": false, "domain": false, "title": "Intensity (a.u.)", "titleFont": "Liberation Serif", "titleFontSize": 23, "titleFontWeight": "bold", "titleColor": "#222", "titleAngle": 270, "titleBaseline": "middle", "titleAlign": "center", "titleX": -19, "titleY": 548}}
},
"layer": [
 {"data": {"values": [{"x":65,"x2":72.5,"y":0.8}]}, "mark": {"type": "rule", "color": "#ff22ff", "strokeWidth": 3}, "encoding": {"x2": {"field": "x2"}}},
 {"data": {"values": [{"x":65.0,"y":0.8},{"x":66.0,"y":1.5},{"x":66.5,"y":4.5},{"x":66.9,"y":12},{"x":67.3,"y":29},{"x":67.7,"y":52},{"x":68.1,"y":71},{"x":68.55,"y":79.5},{"x":68.9,"y":73},{"x":69.3,"y":56},{"x":69.7,"y":32.3},{"x":70.0,"y":18.3},{"x":70.3,"y":11.5},{"x":70.63,"y":6.5},{"x":71.0,"y":3.5},{"x":71.3,"y":2.6},{"x":71.8,"y":1.4},{"x":72.5,"y":0.8}]}, "mark": {"type": "line", "color": "#a8a040", "strokeWidth": 2, "interpolate": "monotone"}},
 {"data": {"values": [{"x":65,"y":0.8},{"x":68.5,"y":0.9},{"x":68.97,"y":1.4},{"x":69.43,"y":5.5},{"x":69.83,"y":16},{"x":70.23,"y":32.3},{"x":70.7,"y":40.7},{"x":71.17,"y":32.3},{"x":71.63,"y":13.6},{"x":71.97,"y":4.3},{"x":72.3,"y":1.5},{"x":72.5,"y":0.9}]}, "mark": {"type": "line", "color": "#3050ff", "strokeWidth": 2, "interpolate": "monotone"}},
 {"data": {"values": [{"x":66.73,"y":0},{"x":66.9,"y":10},{"x":67.3,"y":30},{"x":67.7,"y":54},{"x":68.1,"y":71.5},{"x":68.55,"y":79.5},{"x":68.9,"y":74},{"x":69.3,"y":57.5},{"x":69.7,"y":42.5},{"x":70.0,"y":39.3},{"x":70.3,"y":40.5},{"x":70.6,"y":41},{"x":70.97,"y":38.1},{"x":71.3,"y":27.6},{"x":71.63,"y":13.6},{"x":71.9,"y":0}]}, "mark": {"type": "line", "color": "#10a040", "strokeWidth": 2.5, "interpolate": "monotone"}},
 {"data": {"values": [{"x":65,"y":0.8},{"x":65.5,"y":1.2},{"x":65.97,"y":2.0},{"x":66.5,"y":4.9},{"x":66.9,"y":12.5},{"x":67.3,"y":30},{"x":67.7,"y":53.3},{"x":68.1,"y":71.9},{"x":68.55,"y":81.8},{"x":68.9,"y":75.4},{"x":69.3,"y":57.9},{"x":69.7,"y":41.6},{"x":70.03,"y":37.9},{"x":70.3,"y":40.5},{"x":70.57,"y":43},{"x":70.97,"y":35.8},{"x":71.37,"y":20.6},{"x":71.77,"y":7.8},{"x":72.17,"y":2.6},{"x":72.5,"y":0.8}]}, "mark": {"type": "line", "color": "#ff1a8c", "strokeWidth": 4, "interpolate": "monotone"}},
 {"data": {"values": [{"x":67.96,"y":88.1,"t":"Br 3d"},{"x":70.1,"y":49.7,"t":"Br 3d"}]}, "mark": {"type": "text", "font": "Liberation Serif", "fontWeight": "bold", "fontSize": 20, "color": "#222", "align": "left", "baseline": "middle"}, "encoding": {"text": {"field": "t"}}},
 {"data": {"values": [{"x":68.92,"y":86.4,"t":"5/2"},{"x":71.06,"y":47.9,"t":"3/2"}]}, "mark": {"type": "text", "font": "Liberation Serif", "fontWeight": "bold", "fontSize": 15, "color": "#222", "align": "left", "baseline": "middle"}, "encoding": {"text": {"field": "t"}}},
 {"data": {"values": [{"x":65,"x2":72.5,"y":0,"y2":100}]}, "mark": {"type": "rect", "fillOpacity": 0, "stroke": "#111", "strokeWidth": 4}, "encoding": {"x2": {"field": "x2"}, "y2": {"field": "y2"}}}
]
}
]
}
